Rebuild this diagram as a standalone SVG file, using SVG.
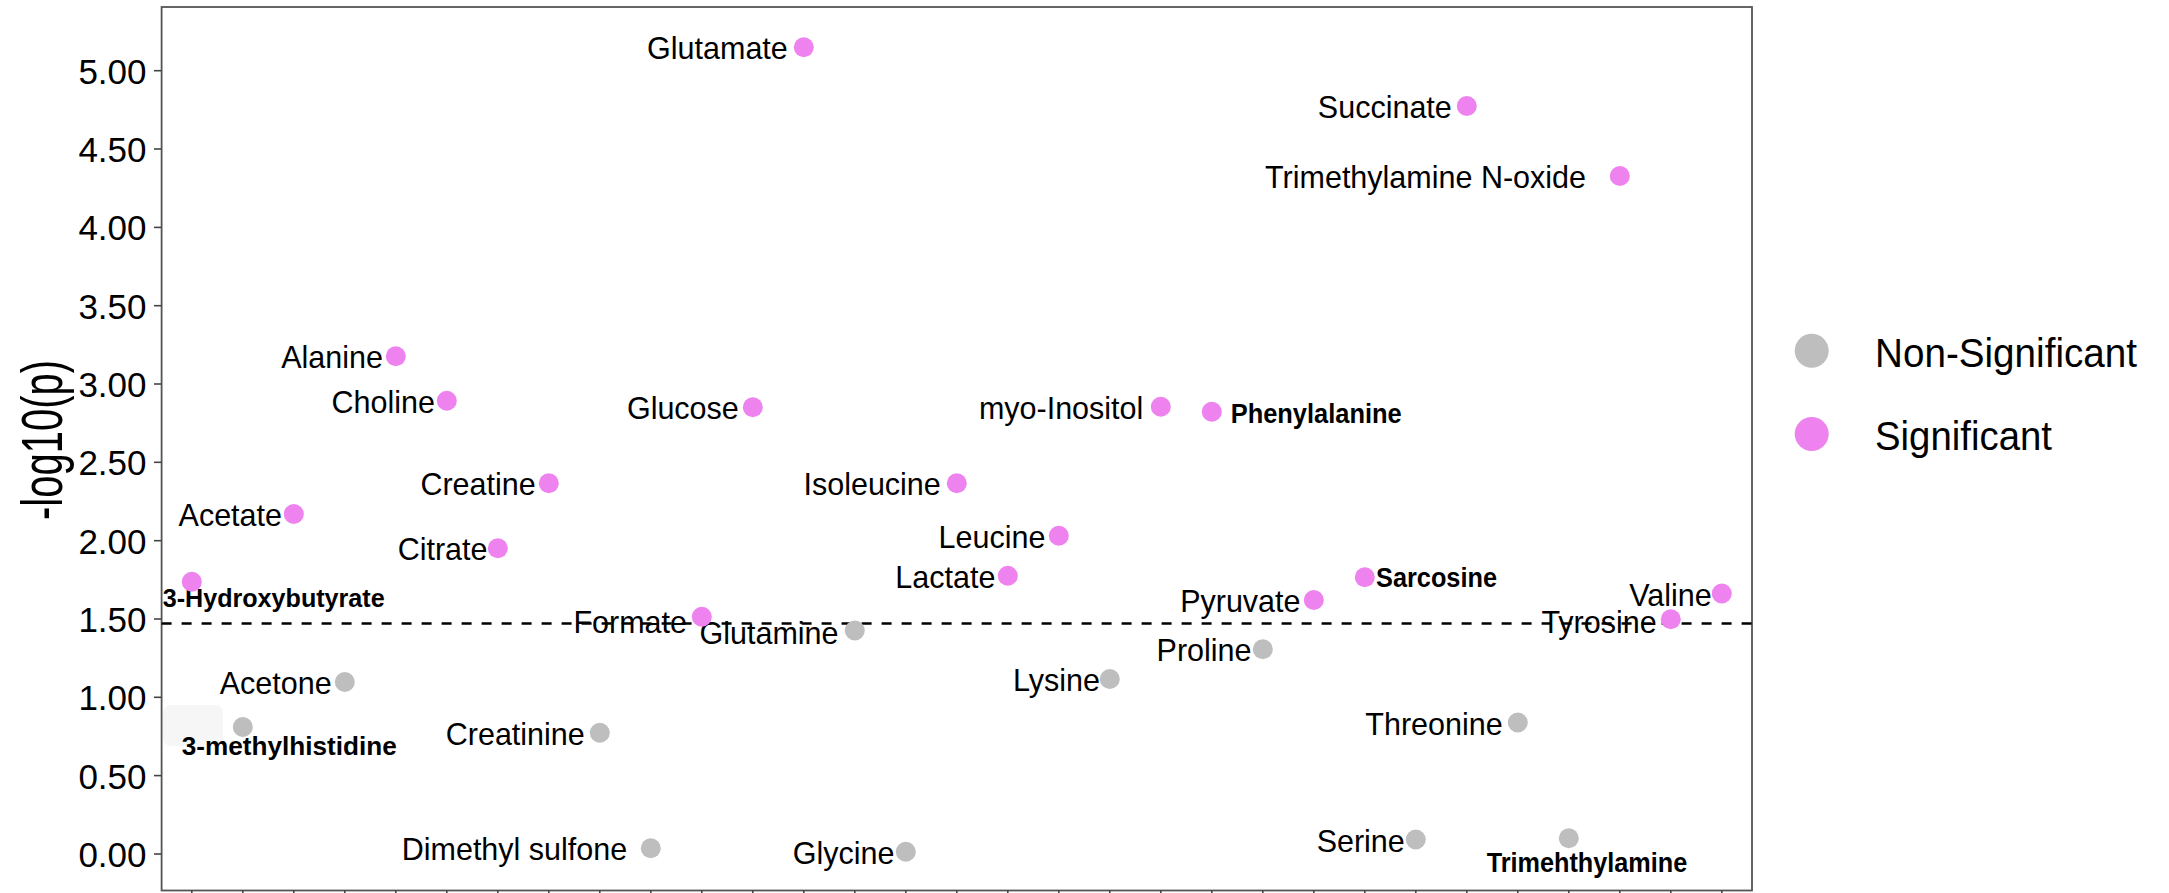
<svg xmlns="http://www.w3.org/2000/svg" width="2169" height="893" viewBox="0 0 2169 893">
<style>
.lbl{font-family:"Liberation Sans",Arial,sans-serif;font-size:30.5px;fill:#000;text-anchor:end}
.bl{font-family:"Liberation Sans Narrow","Liberation Sans",Arial,sans-serif;font-size:26px;font-weight:bold;fill:#000}
.bl2{font-family:"Liberation Sans Narrow","Liberation Sans",Arial,sans-serif;font-size:27.5px;font-weight:bold;fill:#000}
.tk{font-family:"Liberation Sans",Arial,sans-serif;font-size:35px;fill:#000;text-anchor:end}
.lg{font-family:"Liberation Sans",Arial,sans-serif;font-size:41px;fill:#000}
.sig{fill:#EE82EE}
.ns{fill:#BEBEBE}
.tick{stroke:#444;stroke-width:1.6}
</style>
<rect width="2169" height="893" fill="#fff"/>
<g id="axes">
<rect x="161.6" y="7" width="1590.4" height="883.5" fill="none" stroke="#555" stroke-width="1.8"/>
<rect x="163" y="705" width="60" height="41" rx="8" fill="#f6f6f6"/>
<g class="tick">
<line x1="154" y1="70.7" x2="161.6" y2="70.7"/><line x1="154" y1="149" x2="161.6" y2="149"/>
<line x1="154" y1="227.4" x2="161.6" y2="227.4"/><line x1="154" y1="305.7" x2="161.6" y2="305.7"/>
<line x1="154" y1="384" x2="161.6" y2="384"/><line x1="154" y1="462.3" x2="161.6" y2="462.3"/>
<line x1="154" y1="540.7" x2="161.6" y2="540.7"/><line x1="154" y1="619" x2="161.6" y2="619"/>
<line x1="154" y1="697.3" x2="161.6" y2="697.3"/><line x1="154" y1="775.6" x2="161.6" y2="775.6"/>
<line x1="154" y1="854" x2="161.6" y2="854"/>
</g>
<g class="tick">
<line x1="191.8" y1="890.5" x2="191.8" y2="899"/><line x1="242.8" y1="890.5" x2="242.8" y2="899"/>
<line x1="293.8" y1="890.5" x2="293.8" y2="899"/><line x1="344.8" y1="890.5" x2="344.8" y2="899"/>
<line x1="395.8" y1="890.5" x2="395.8" y2="899"/><line x1="446.8" y1="890.5" x2="446.8" y2="899"/>
<line x1="497.8" y1="890.5" x2="497.8" y2="899"/><line x1="548.8" y1="890.5" x2="548.8" y2="899"/>
<line x1="599.8" y1="890.5" x2="599.8" y2="899"/><line x1="650.8" y1="890.5" x2="650.8" y2="899"/>
<line x1="701.8" y1="890.5" x2="701.8" y2="899"/><line x1="752.8" y1="890.5" x2="752.8" y2="899"/>
<line x1="803.8" y1="890.5" x2="803.8" y2="899"/><line x1="854.8" y1="890.5" x2="854.8" y2="899"/>
<line x1="905.8" y1="890.5" x2="905.8" y2="899"/><line x1="956.8" y1="890.5" x2="956.8" y2="899"/>
<line x1="1007.8" y1="890.5" x2="1007.8" y2="899"/><line x1="1058.8" y1="890.5" x2="1058.8" y2="899"/>
<line x1="1109.8" y1="890.5" x2="1109.8" y2="899"/><line x1="1160.8" y1="890.5" x2="1160.8" y2="899"/>
<line x1="1211.8" y1="890.5" x2="1211.8" y2="899"/><line x1="1262.8" y1="890.5" x2="1262.8" y2="899"/>
<line x1="1313.8" y1="890.5" x2="1313.8" y2="899"/><line x1="1364.8" y1="890.5" x2="1364.8" y2="899"/>
<line x1="1415.8" y1="890.5" x2="1415.8" y2="899"/><line x1="1466.8" y1="890.5" x2="1466.8" y2="899"/>
<line x1="1517.8" y1="890.5" x2="1517.8" y2="899"/><line x1="1568.8" y1="890.5" x2="1568.8" y2="899"/>
<line x1="1619.8" y1="890.5" x2="1619.8" y2="899"/><line x1="1670.8" y1="890.5" x2="1670.8" y2="899"/>
<line x1="1721.8" y1="890.5" x2="1721.8" y2="899"/>
</g>
<text class="tk" x="146.5" y="83.7">5.00</text>
<text class="tk" x="146.5" y="162">4.50</text>
<text class="tk" x="146.5" y="240.4">4.00</text>
<text class="tk" x="146.5" y="318.7">3.50</text>
<text class="tk" x="146.5" y="397">3.00</text>
<text class="tk" x="146.5" y="475.3">2.50</text>
<text class="tk" x="146.5" y="553.7">2.00</text>
<text class="tk" x="146.5" y="632">1.50</text>
<text class="tk" x="146.5" y="710.3">1.00</text>
<text class="tk" x="146.5" y="788.6">0.50</text>
<text class="tk" x="146.5" y="867">0.00</text>
<text transform="translate(62,440) rotate(-90)" font-family="Liberation Sans, Arial, sans-serif" font-size="58" text-anchor="middle" textLength="160" lengthAdjust="spacingAndGlyphs">-log10(p)</text>
</g>
<g id="labels">
<text class="bl" x="162.7" y="606.7" textLength="222" lengthAdjust="spacingAndGlyphs">3-Hydroxybutyrate</text>
<text class="bl" x="181.7" y="755" textLength="215" lengthAdjust="spacingAndGlyphs">3-methylhistidine</text>
<text class="lbl" x="282" y="526">Acetate</text>
<text class="lbl" x="331.7" y="694">Acetone</text>
<text class="lbl" x="383" y="368.3">Alanine</text>
<text class="lbl" x="435" y="412.7">Choline</text>
<text class="lbl" x="487.5" y="560.3">Citrate</text>
<text class="lbl" x="535.7" y="495.3">Creatine</text>
<text class="lbl" x="584.8" y="744.7">Creatinine</text>
<text class="lbl" x="627.2" y="860.3">Dimethyl sulfone</text>
<text class="lbl" x="687" y="632.5">Formate</text>
<text class="lbl" x="738.8" y="419.3">Glucose</text>
<text class="lbl" x="787.8" y="59.3">Glutamate</text>
<text class="lbl" x="838.5" y="644">Glutamine</text>
<text class="lbl" x="894.4" y="863.7">Glycine</text>
<text class="lbl" x="940.8" y="495.3">Isoleucine</text>
<text class="lbl" x="995.4" y="587.7">Lactate</text>
<text class="lbl" x="1045.4" y="547.7">Leucine</text>
<text class="lbl" x="1100" y="691">Lysine</text>
<text class="lbl" x="1143.3" y="418.7">myo-Inositol</text>
<text class="bl2" x="1230.7" y="423.3" textLength="171" lengthAdjust="spacingAndGlyphs">Phenylalanine</text>
<text class="lbl" x="1251.5" y="661.3">Proline</text>
<text class="lbl" x="1300.5" y="612">Pyruvate</text>
<text class="bl2" x="1376" y="586.7" textLength="121" lengthAdjust="spacingAndGlyphs">Sarcosine</text>
<text class="lbl" x="1404.8" y="851.5">Serine</text>
<text class="lbl" x="1451.8" y="118">Succinate</text>
<text class="lbl" x="1502.7" y="734.5">Threonine</text>
<text class="bl2" x="1486.7" y="871.7" textLength="200.6" lengthAdjust="spacingAndGlyphs">Trimehthylamine</text>
<text class="lbl" x="1586" y="188">Trimethylamine N-oxide</text>
<text class="lbl" x="1656.7" y="632.5">Tyrosine</text>
<text class="lbl" x="1711.7" y="606">Valine</text>
</g>
<g id="connectors">
<line x1="161.6" y1="623.5" x2="1752" y2="623.5" stroke="#000" stroke-width="2.5" stroke-dasharray="10 10"/>
</g>
<g id="points">
<g id="n-3-hydroxybutyrate"><circle class="sig" cx="191.8" cy="581.7" r="10"/></g>
<g id="n-3-methylhistidine"><circle class="ns" cx="242.8" cy="727" r="10"/></g>
<g id="n-acetate"><circle class="sig" cx="293.8" cy="514" r="10"/></g>
<g id="n-acetone"><circle class="ns" cx="344.8" cy="682" r="10"/></g>
<g id="n-alanine"><circle class="sig" cx="395.8" cy="356.3" r="10"/></g>
<g id="n-choline"><circle class="sig" cx="446.8" cy="400.7" r="10"/></g>
<g id="n-citrate"><circle class="sig" cx="497.8" cy="548.3" r="10"/></g>
<g id="n-creatine"><circle class="sig" cx="548.8" cy="483.3" r="10"/></g>
<g id="n-creatinine"><circle class="ns" cx="599.8" cy="732.7" r="10"/></g>
<g id="n-dimethyl-sulfone"><circle class="ns" cx="650.8" cy="848.3" r="10"/></g>
<g id="n-formate"><circle class="sig" cx="701.8" cy="616.7" r="10"/></g>
<g id="n-glucose"><circle class="sig" cx="752.8" cy="407.3" r="10"/></g>
<g id="n-glutamate"><circle class="sig" cx="803.8" cy="47.3" r="10"/></g>
<g id="n-glutamine"><circle class="ns" cx="854.8" cy="630.5" r="10"/></g>
<g id="n-glycine"><circle class="ns" cx="905.8" cy="851.7" r="10"/></g>
<g id="n-isoleucine"><circle class="sig" cx="956.8" cy="483.3" r="10"/></g>
<g id="n-lactate"><circle class="sig" cx="1007.8" cy="575.7" r="10"/></g>
<g id="n-leucine"><circle class="sig" cx="1058.8" cy="535.7" r="10"/></g>
<g id="n-lysine"><circle class="ns" cx="1109.8" cy="679" r="10"/></g>
<g id="n-myo-inositol"><circle class="sig" cx="1160.8" cy="406.7" r="10"/></g>
<g id="n-phenylalanine"><circle class="sig" cx="1211.8" cy="411.7" r="10"/></g>
<g id="n-proline"><circle class="ns" cx="1262.8" cy="649.3" r="10"/></g>
<g id="n-pyruvate"><circle class="sig" cx="1313.8" cy="600" r="10"/></g>
<g id="n-sarcosine"><circle class="sig" cx="1364.8" cy="577.3" r="10"/></g>
<g id="n-serine"><circle class="ns" cx="1415.8" cy="839.5" r="10"/></g>
<g id="n-succinate"><circle class="sig" cx="1466.8" cy="106" r="10"/></g>
<g id="n-threonine"><circle class="ns" cx="1517.8" cy="722.5" r="10"/></g>
<g id="n-trimehthylamine"><circle class="ns" cx="1568.8" cy="838.3" r="10"/></g>
<g id="n-tmao"><circle class="sig" cx="1619.8" cy="176" r="10"/></g>
<g id="n-tyrosine"><circle class="sig" cx="1670.8" cy="619.3" r="10"/></g>
<g id="n-valine"><circle class="sig" cx="1721.8" cy="593.5" r="10"/></g>
</g>
<g id="legend">
<circle class="ns" cx="1811.7" cy="350.7" r="17"/>
<text class="lg" x="1875" y="366.7" textLength="262" lengthAdjust="spacingAndGlyphs">Non-Significant</text>
<circle class="sig" cx="1811.7" cy="434" r="17"/>
<text class="lg" x="1875" y="450" textLength="177" lengthAdjust="spacingAndGlyphs">Significant</text>
</g>
</svg>
